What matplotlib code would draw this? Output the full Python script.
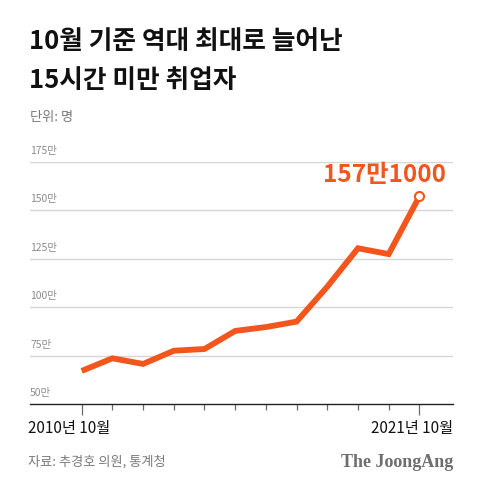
import numpy as np
import matplotlib
matplotlib.use("Agg")
import matplotlib.pyplot as plt

# -------------------------
# data (단위: 만 명)
# -------------------------
years = [2010, 2011, 2012, 2013, 2014, 2015, 2016, 2017, 2018, 2019, 2020, 2021]
workers = [67.2, 73.7, 70.8, 77.6, 78.5, 87.8, 89.8, 92.6, 110.6, 130.4, 127.4, 157.1]
y_ticks = [50, 75, 100, 125, 150, 175]
y_tick_labels = ["50만", "75만", "100만", "125만", "150만", "175만"]
last_label = "157만1000"

title = "10월 기준 역대 최대로 늘어난\n15시간 미만 취업자"
unit = "단위: 명"
first_x_label = "2010년 10월"
last_x_label = "2021년 10월"
source = "자료: 추경호 의원, 통계청"
brand = "The JoongAng"

plt.rcParams["font.family"] = ["Noto Sans CJK KR", "DejaVu Sans"]

orange = "#F2561D"
grid_c = "#d6d6d6"
tick_c = "#6a6a6a"

W, H = 480, 498
fig = plt.figure(figsize=(4.8, 4.98), dpi=100)
fig.patch.set_facecolor("white")

# axes placed in pixel coords
left, right = 30, 452.7
top, bottom = 161.7, 404.3
ax = fig.add_axes([left / W, 1 - bottom / H, (right - left) / W, (bottom - top) / H])

ax.set_xlim(2008.316, 2022.085)
ax.set_ylim(50, 175)

# gridlines
for v in y_ticks[1:]:
    ax.axhline(v, color=grid_c, linewidth=1.0, zorder=1)

# y tick labels (above gridlines, left)
for v, lab in zip(y_ticks, y_tick_labels):
    ax.text(0, v + 3.0, lab, transform=ax.get_yaxis_transform(),
            ha="left", va="bottom", fontsize=7.5, color="#8c8c8c")

# line
ax.plot(years, workers, color=orange, linewidth=4.2, solid_capstyle="butt",
        solid_joinstyle="miter", zorder=3, clip_on=False)
ax.plot(years[-1], workers[-1], "o", markersize=6.5, markerfacecolor="white",
        markeredgecolor=orange, markeredgewidth=1.5, zorder=4, clip_on=False)

ax.text(2021.88, workers[-1] + 5.0, last_label, ha="right", va="bottom",
        fontsize=17.5, fontweight="heavy", color=orange)

# axes styling
for s in ["top", "right", "left"]:
    ax.spines[s].set_visible(False)
ax.spines["bottom"].set_color("#222222")
ax.spines["bottom"].set_linewidth(1.0)
ax.set_yticks([])
ax.set_xticks(years)
ax.set_xticklabels([])
ax.tick_params(axis="x", length=4, width=0.9, color=tick_c, direction="out")
for i, t in enumerate(ax.xaxis.get_major_ticks()):
    if i in (0, len(years) - 1):
        t.tick1line.set_markersize(8)
        t.tick1line.set_color("#333333")

# texts
fig.text(29 / W, 1 - 28 / H, title, ha="left", va="top", fontsize=18.5,
         fontweight="heavy", color="#111111", linespacing=1.55)
fig.text(30 / W, 1 - 117 / H, unit, ha="left", va="center", fontsize=9.5,
         color="#777777")
fig.text(28 / W, 1 - 428 / H, first_x_label, ha="left", va="center",
         fontsize=11, fontweight="medium", color="#111111")
fig.text(453 / W, 1 - 428 / H, last_x_label, ha="right", va="center",
         fontsize=11, fontweight="medium", color="#111111")
fig.text(28 / W, 1 - 462 / H, source, ha="left", va="center",
         fontsize=9.5, color="#7a7a7a")
fig.text(453 / W, 1 - 462 / H, brand, ha="right", va="center", fontsize=13,
         fontweight="bold", color="#6e6e6e", family=["Liberation Serif", "DejaVu Serif"])

fig.savefig("out.png", dpi=100, facecolor="white")
